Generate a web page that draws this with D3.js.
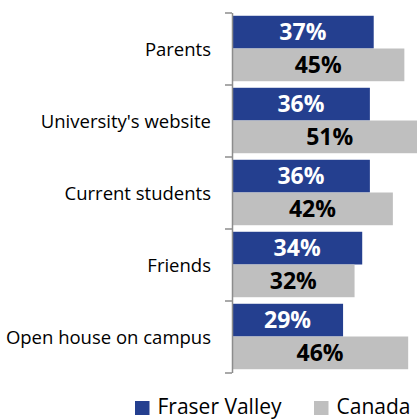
<!DOCTYPE html>
<html>
<head>
<meta charset="utf-8">
<script src="https://cdn.jsdelivr.net/npm/d3@7"></script>
<style>
	body { margin: 0; background: #fff; }
	svg { display: block; font-family: "Open Sans", sans-serif; }
</style>
</head>
<body>
<div id="graphic"></div>
<script>
const categories = ["Parents", "University's website", "Current students", "Friends", "Open house on campus"];
const seriesNames = ["Fraser Valley", "Canada"];
const fraserValley = [37, 36, 36, 34, 29];
const canada = [45, 51, 42, 32, 46];
const colours = ["#243f8f", "#bfbfbf"];
const labelColours = ["#ffffff", "#000000"];

const width = 417, height = 420;
const axisX = 232;

const data = categories.map((c, i) => ({ name: c, values: [fraserValley[i], canada[i]] }));

const svg = d3.select('#graphic').append('svg')
	.attr('width', width)
	.attr('height', height);

// x scale, bars run off the right edge like the original
const x = d3.scaleLinear().domain([0, 50]).range([axisX, axisX + 191.5]);

const y = d3.scaleBand().domain(categories).range([12.5, 372.5]).padding(0);

const ySeries = d3.scaleBand()
	.domain(seriesNames)
	.range([0, y.bandwidth()])
	.paddingInner(0)
	.paddingOuter(0.1);

// bars
const groups = svg.append('g').attr('class', 'bars')
	.selectAll('g')
	.data(data)
	.join('g')
	.attr('transform', d => 'translate(0,' + y(d.name) + ')');

groups.selectAll('rect')
	.data(d => d.values)
	.join('rect')
	.attr('x', x(0))
	.attr('y', (d, k) => ySeries(seriesNames[k]))
	.attr('width', d => x(d) - x(0))
	.attr('height', ySeries.bandwidth())
	.attr('fill', (d, k) => colours[k]);

groups.selectAll('text')
	.data(d => d.values)
	.join('text')
	.attr('x', d => (x(0) + x(d)) / 2)
	.attr('y', (d, k) => ySeries(seriesNames[k]) + ySeries.bandwidth() / 2)
	.attr('dy', '0.36em')
	.attr('text-anchor', 'middle')
	.attr('font-weight', 'bold')
	.attr('font-size', '23px')
	.attr('fill', (d, k) => labelColours[k])
	.text(d => d + '%');

// axis with ticks between the categories
const yEdge = d3.scaleLinear().domain([0, categories.length]).range(y.range());

svg.append('g')
	.attr('class', 'y axis')
	.attr('transform', 'translate(' + axisX + ',0)')
	.call(d3.axisLeft(yEdge).tickValues(d3.range(categories.length + 1)).tickFormat('').tickSize(7).tickSizeOuter(0))
	.call(g => g.selectAll('path, line').attr('stroke', '#8c8c8c').attr('stroke-width', 1.5));

// category labels
svg.append('g')
	.attr('class', 'labels')
	.selectAll('text')
	.data(categories)
	.join('text')
	.attr('x', 211)
	.attr('y', d => y(d) + y.bandwidth() / 2)
	.attr('dy', '0.42em')
	.attr('text-anchor', 'end')
	.attr('font-size', '18.5px')
	.attr('fill', '#000')
	.text(d => d);

// legend
const legendX = [135, 314];
const legend = svg.append('g').attr('class', 'legend')
	.selectAll('g')
	.data(seriesNames)
	.join('g')
	.attr('transform', (d, i) => 'translate(' + legendX[i] + ',0)');

legend.append('rect')
	.attr('y', 401)
	.attr('width', 14.5)
	.attr('height', 14)
	.attr('fill', (d, i) => colours[i]);

legend.append('text')
	.attr('x', 22.5)
	.attr('y', 414)
	.attr('font-size', '21px')
	.attr('fill', '#000')
	.text(d => d);
</script>
</body>
</html>
